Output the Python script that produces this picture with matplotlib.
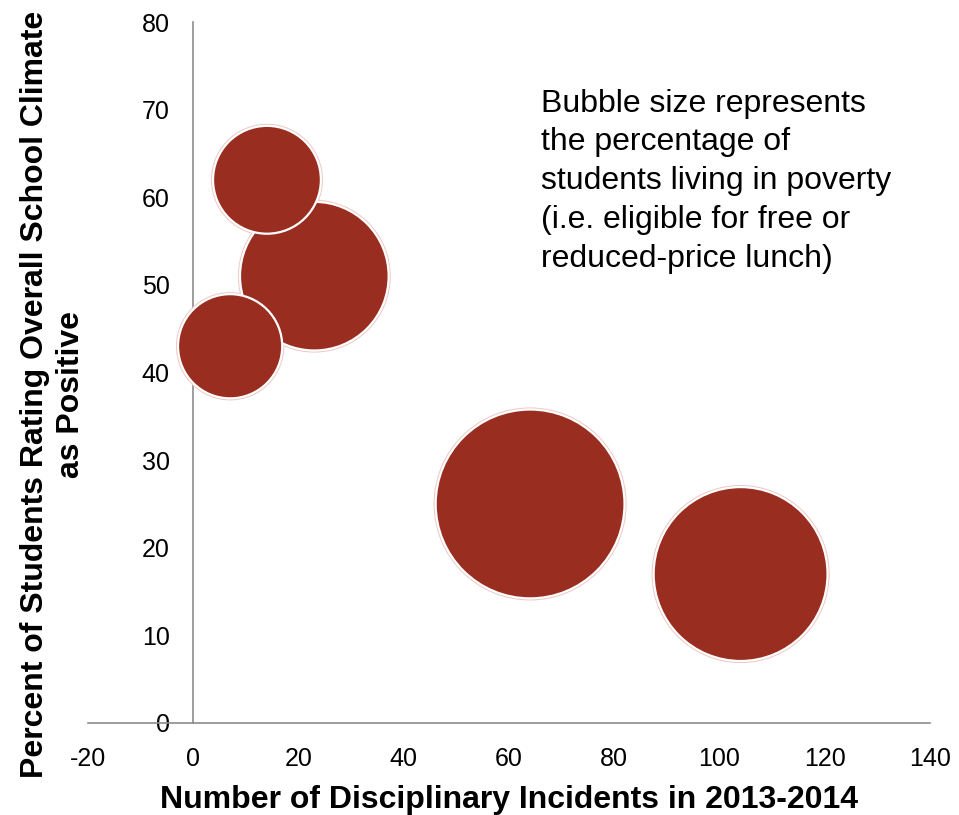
import numpy as np
import matplotlib.pyplot as plt

plt.rcParams['font.family'] = ['Liberation Sans', 'DejaVu Sans']
plt.rcParams['axes.unicode_minus'] = False

# incidents per school, positive climate rating, poverty rate (bubble size)
incidents = [14, 23, 7, 64, 104]
climate_pct = [62, 51, 43, 25, 17]
poverty_pct = [30, 57, 28, 92, 78]

bubble_color = '#992D20'
axis_gray = '#8C8C8C'

fig = plt.figure(figsize=(9.59, 8.15), dpi=100)
ax = fig.add_axes([0.0918, 0.1129, 0.878, 0.860])

# biggest bubbles first so the small ones sit on top
order = np.argsort(poverty_pct)[::-1]
xs = np.array(incidents)[order]
ys = np.array(climate_pct)[order]
ss = np.array(poverty_pct)[order] * 201.0

ax.scatter(xs, ys, s=ss, color=bubble_color, edgecolors='#EBC9C4',
           linewidths=3.0, zorder=3)
ax.scatter(xs, ys, s=ss, color=bubble_color, edgecolors='white',
           linewidths=1.6, zorder=3)

ax.set_xlim(-20, 140)
ax.set_ylim(0, 80)
ax.set_xticks(range(-20, 141, 20))
ax.set_yticks(range(0, 81, 10))

for side in ['top', 'right']:
    ax.spines[side].set_visible(False)
ax.spines['left'].set_position(('data', 0))
ax.spines['left'].set_color(axis_gray)
ax.spines['bottom'].set_color(axis_gray)
ax.spines['left'].set_linewidth(1.2)
ax.spines['bottom'].set_linewidth(1.2)
ax.tick_params(axis='both', length=0, labelsize=18)
ax.tick_params(axis='y', pad=17)
ax.tick_params(axis='x', pad=17)

ax.set_xlabel('Number of Disciplinary Incidents in 2013-2014',
              fontsize=23, fontweight='bold')
ax.xaxis.set_label_coords(0.5, -0.089)
ax.set_ylabel('Percent of Students Rating Overall School Climate\nas Positive',
              fontsize=23, fontweight='bold', linespacing=1.28)
ax.yaxis.set_label_coords(-0.002, 0.469)

ax.text(0.538, 0.905,
        'Bubble size represents\nthe percentage of\nstudents living in poverty\n'
        '(i.e. eligible for free or\nreduced-price lunch)',
        transform=ax.transAxes, fontsize=23, va='top', ha='left',
        linespacing=1.38)

fig.savefig('out.png', dpi=100)
